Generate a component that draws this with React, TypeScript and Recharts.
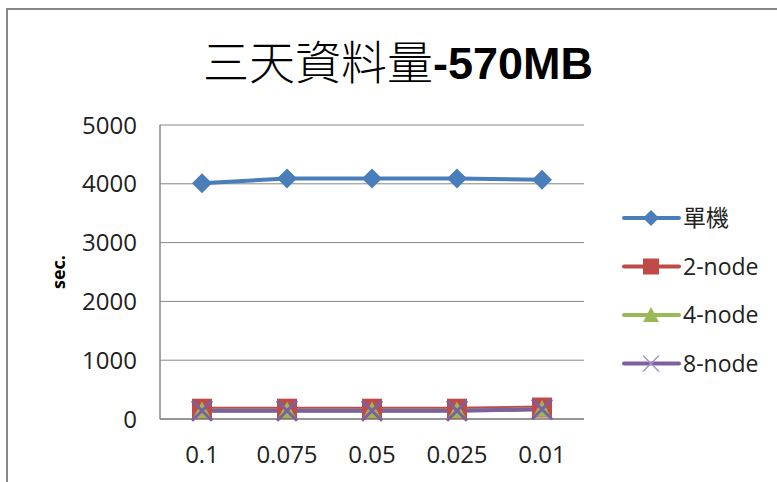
import React from 'react';
import { LineChart, Line, XAxis, YAxis, CartesianGrid } from 'recharts';

const categories = ['0.1', '0.075', '0.05', '0.025', '0.01'];
const singleMachine = [4010, 4090, 4090, 4090, 4070];
const node2 = [175, 175, 175, 175, 195];
const node4 = [145, 145, 145, 145, 168];
const node8 = [140, 140, 140, 140, 165];
const yTicks = [0, 1000, 2000, 3000, 4000, 5000];
const seriesNames = ['單機', '2-node', '4-node', '8-node'];

const data = categories.map((c, i) => ({
  cat: c,
  s: singleMachine[i],
  n2: node2[i],
  n4: node4[i],
  n8: node8[i],
}));

const BLUE = '#4A7EBB';
const RED = '#BE4B48';
const GREEN = '#98B954';
const PURPLE = '#7D60A0';
const AXIS = '#878787';
const FONT = '"Open Sans", "Liberation Sans", sans-serif';

const Diamond = (r: number, color: string) => (p: any) => {
  const { cx, cy, index } = p;
  if (cx == null || cy == null) return <g key={index} />;
  return (
    <polygon
      key={index}
      points={`${cx},${cy - r} ${cx + r},${cy} ${cx},${cy + r} ${cx - r},${cy}`}
      fill={color}
    />
  );
};

const Square = (r: number, color: string) => (p: any) => {
  const { cx, cy, index } = p;
  if (cx == null || cy == null) return <g key={index} />;
  return <rect key={index} x={cx - r} y={cy - r} width={2 * r} height={2 * r} fill={color} />;
};

const Triangle = (r: number, color: string) => (p: any) => {
  const { cx, cy, index } = p;
  if (cx == null || cy == null) return <g key={index} />;
  return (
    <polygon
      key={index}
      points={`${cx},${cy - r} ${cx + r},${cy + r * 0.85} ${cx - r},${cy + r * 0.85}`}
      fill={color}
    />
  );
};

const Cross = (r: number, color: string, w: number) => (p: any) => {
  const { cx, cy, index } = p;
  if (cx == null || cy == null) return <g key={index} />;
  return (
    <g key={index}>
      <line x1={cx - r} y1={cy - r} x2={cx + r} y2={cy + r} stroke={color} strokeWidth={w} />
      <line x1={cx - r} y1={cy + r} x2={cx + r} y2={cy - r} stroke={color} strokeWidth={w} />
    </g>
  );
};

const legendMarkers = [
  (cx: number, cy: number) => (
    <polygon points={`${cx},${cy - 8} ${cx + 8},${cy} ${cx},${cy + 8} ${cx - 8},${cy}`} fill={BLUE} />
  ),
  (cx: number, cy: number) => <rect x={cx - 8} y={cy - 8} width={16} height={16} fill={RED} />,
  (cx: number, cy: number) => (
    <polygon points={`${cx},${cy - 8} ${cx + 8},${cy + 7} ${cx - 8},${cy + 7}`} fill={GREEN} />
  ),
  (cx: number, cy: number) => (
    <g>
      <line x1={cx - 8} y1={cy - 8} x2={cx + 8} y2={cy + 8} stroke="#A593C2" strokeWidth={1.5} />
      <line x1={cx - 8} y1={cy + 8} x2={cx + 8} y2={cy - 8} stroke="#A593C2" strokeWidth={1.5} />
    </g>
  ),
];
const legendColors = [BLUE, RED, GREEN, PURPLE];

const LegendBox = () => (
  <svg width={160} height={180} style={{ position: 'absolute', left: 620, top: 200 }}>
    {seriesNames.map((name, i) => {
      const cy = 18 + i * 48.5;
      return (
        <g key={name}>
          <line x1={4} y1={cy} x2={59} y2={cy} stroke={legendColors[i]} strokeWidth={4} strokeLinecap="round" />
          {legendMarkers[i](31, cy)}
          <text x={63} y={cy + 8} fontSize={23} fill="#222" fontFamily={i === 0 ? '"Noto Sans CJK TC", sans-serif' : FONT}>
            {name}
          </text>
        </g>
      );
    })}
  </svg>
);

const YTick = (p: any) => {
  const { x, y, payload } = p;
  return (
    <text x={x} y={y + 8.5} textAnchor="end" fontSize={24} fill="#222" fontFamily={FONT}>
      {payload.value}
    </text>
  );
};

const XTick = (p: any) => {
  const { x, y, payload } = p;
  return (
    <text x={x} y={y + 42} textAnchor="middle" fontSize={24} fill="#222" fontFamily={FONT}>
      {payload.value}
    </text>
  );
};

export default function App() {
  return (
    <div style={{ position: 'absolute', left: 0, top: 0, width: 777, height: 482, background: '#fff', overflow: 'hidden' }}>
      <div
        style={{
          position: 'absolute',
          left: 6,
          top: 8,
          width: 800,
          height: 500,
          borderLeft: `2px solid ${AXIS}`,
          borderTop: `2px solid ${AXIS}`,
        }}
      />
      <svg width={777} height={110} style={{ position: 'absolute', left: 0, top: 0 }}>
        <text x={398} y={79} textAnchor="middle" fill="#000">
          <tspan fontFamily='"Noto Sans CJK TC", sans-serif' fontWeight={300} fontSize={46}>三天資料量</tspan>
          <tspan fontFamily='"Liberation Sans", sans-serif' fontWeight={700} fontSize={45}>-570MB</tspan>
        </text>
      </svg>
      <svg width={100} height={482} style={{ position: 'absolute', left: 0, top: 0 }}>
        <text
          x={65}
          y={272}
          transform="rotate(-90 65 272)"
          textAnchor="middle"
          fontSize={18}
          fontWeight={700}
          fill="#000"
          fontFamily={FONT}
        >
          sec.
        </text>
      </svg>
      <div style={{ position: 'absolute', left: 0, top: 0 }}>
        <LineChart width={777} height={482} data={data} margin={{ top: 125, right: 193, left: 0, bottom: 0 }}>
          <CartesianGrid horizontal vertical={false} stroke={AXIS} strokeWidth={1} />
          <XAxis
            dataKey="cat"
            height={63}
            padding={{ left: 42, right: 42 }}
            axisLine={{ stroke: AXIS, strokeWidth: 1.5 }}
            tickLine={false}
            tickSize={0}
            tick={<XTick />}
            interval={0}
          />
          <YAxis
            width={160}
            domain={[0, 5000]}
            ticks={yTicks}
            axisLine={{ stroke: AXIS, strokeWidth: 1.5 }}
            tickLine={false}
            tickSize={0}
            tickMargin={23}
            tick={<YTick />}
            interval={0}
          />
          <Line dataKey="s" name={seriesNames[0]} stroke={BLUE} strokeWidth={4} dot={Diamond(10, BLUE)} activeDot={false} isAnimationActive={false} />
          <Line dataKey="n2" name={seriesNames[1]} stroke={RED} strokeWidth={4} dot={Square(10, RED)} activeDot={false} isAnimationActive={false} />
          <Line dataKey="n4" name={seriesNames[2]} stroke={GREEN} strokeWidth={4} dot={Triangle(9, GREEN)} activeDot={false} isAnimationActive={false} />
          <Line dataKey="n8" name={seriesNames[3]} stroke={PURPLE} strokeWidth={4} dot={Cross(10, PURPLE, 3)} activeDot={false} isAnimationActive={false} />
        </LineChart>
      </div>
      <LegendBox />
    </div>
  );
}
